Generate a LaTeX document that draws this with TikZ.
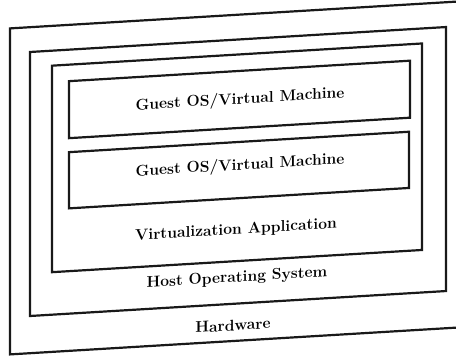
\documentclass[tikz,border=0pt]{standalone}
\usepackage{tikz}
\usetikzlibrary{positioning}
\tikzset{
  layer/.style={line width=2.2pt,black!90},
  lbl/.style={font=\fontsize{15.6}{18}\selectfont\bfseries,inner sep=1pt,transform shape},
}

\begin{document}
\begin{tikzpicture}[x=1pt,y=-1pt]
  \useasboundingbox (0,0) rectangle (456,356);
  \begin{scope}[yslant=0.06] % scanned page is slightly skewed
    % nested layers, outside in
    \draw[layer] (10,29) rectangle (465,355);      % hardware
    \draw[layer] (30,53.8) rectangle (446,317.8);  % host OS
    \draw[layer] (52,68.8) rectangle (422,275.3);  % virtualization app
    \draw[layer] (69,85.3) rectangle (410,142.3);  % guest 1
    \draw[layer] (69,156.3) rectangle (409,212.5); % guest 2
    \node[lbl] (guest1) at (240,114.3) {Guest OS/Virtual Machine};
    \node[lbl] (guest2) at (240,180.3) {Guest OS/Virtual Machine};
    \node[lbl] (virt)   at (236,244.3) {Virtualization Application};
    \node[lbl] (host)   at (237,292.3) {Host Operating System};
    \node[lbl] (hw)     at (233,339.3) {Hardware};
  \end{scope}
\end{tikzpicture}
\end{document}
